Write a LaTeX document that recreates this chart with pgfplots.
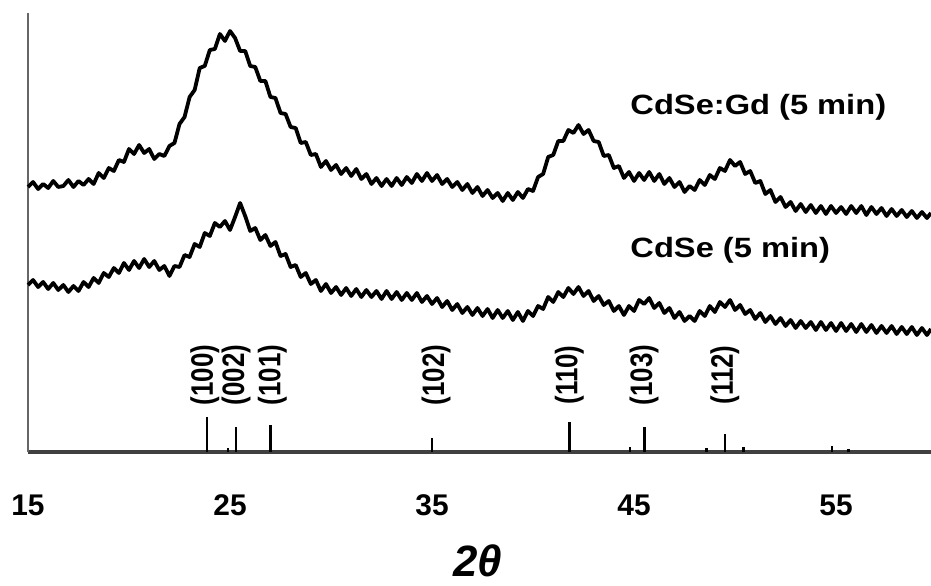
\documentclass[border=0pt]{standalone}
\usepackage{fontspec}
\setmainfont{Liberation Sans}
\usepackage{pgfplots}
\pgfplotsset{compat=1.18}

\begin{document}
\begin{tikzpicture}
\begin{axis}[
    scale only axis,
    width=451.5bp,
    height=219.5bp,
    xmin=15, xmax=59.7,
    ymin=0, ymax=439,
    clip=false,
    axis x line=bottom,
    axis y line=left,
    axis line style={-},
    x axis line style={line width=1.6bp, black!75},
    y axis line style={line width=0.6bp, black!60},
    xtick={15,25,35,45,55},
    ytick=\empty,
    major tick length=0pt,
    /pgf/number format/assume math mode=true,
    xticklabel style={font=\fontsize{15}{15}\selectfont\bfseries, anchor=center, yshift=-26.5bp},
    xlabel={2θ},
    xlabel style={font=\fontsize{22}{22}\selectfont\bfseries\itshape, inner sep=0pt, at={(axis description cs:0.498,0)}, anchor=center, yshift=-54.5bp},
]
% CdSe:Gd (5 min)
\addplot[black, line width=1.9bp, line join=round] coordinates {
(15.00,265) (15.25,270) (15.50,263) (15.75,268) (16.00,264) (16.25,271) (16.50,265) (16.75,266)
(17.00,272) (17.25,265) (17.50,271) (17.75,267) (18.00,273) (18.25,268) (18.50,279) (18.75,274)
(19.00,284) (19.25,281) (19.50,292) (19.75,290) (20.00,303) (20.25,298) (20.50,307) (20.75,299)
(21.00,303) (21.25,293) (21.50,298) (21.75,296) (22.00,306) (22.25,309) (22.50,328) (22.75,335)
(23.00,355) (23.25,362) (23.50,384) (23.75,386) (24.00,402) (24.25,403) (24.50,418) (24.75,411)
(25.00,421) (25.25,414) (25.50,401) (25.75,401) (26.00,386) (26.25,385) (26.50,371) (26.75,371)
(27.00,355) (27.25,354) (27.50,339) (27.75,338) (28.00,325) (28.25,324) (28.50,309) (28.75,310)
(29.00,297) (29.25,298) (29.50,285) (29.75,291) (30.00,282) (30.25,287) (30.50,278) (30.75,284)
(31.00,276) (31.25,283) (31.50,273) (31.75,278) (32.00,268) (32.25,274) (32.50,266) (32.75,273)
(33.00,266) (33.25,274) (33.50,267) (33.75,275) (34.00,269) (34.25,278) (34.50,271) (34.75,279)
(35.00,271) (35.25,277) (35.50,268) (35.75,273) (36.00,265) (36.25,270) (36.50,262) (36.75,268)
(37.00,259) (37.25,265) (37.50,256) (37.75,262) (38.00,254) (38.25,259) (38.50,251) (38.75,259)
(39.00,252) (39.25,260) (39.50,254) (39.75,263) (40.00,261) (40.25,275) (40.50,278) (40.75,295)
(41.00,297) (41.25,311) (41.50,311) (41.75,322) (42.00,319) (42.25,327) (42.50,318) (42.75,322)
(43.00,311) (43.25,310) (43.50,296) (43.75,297) (44.00,284) (44.25,286) (44.50,274) (44.75,280)
(45.00,271) (45.25,279) (45.50,272) (45.75,280) (46.00,271) (46.25,278) (46.50,268) (46.75,274)
(47.00,265) (47.25,270) (47.50,260) (47.75,266) (48.00,262) (48.25,272) (48.50,267) (48.75,277)
(49.00,273) (49.25,284) (49.50,281) (49.75,292) (50.00,286) (50.25,290) (50.50,278) (50.75,281)
(51.00,269) (51.25,271) (51.50,258) (51.75,262) (52.00,250) (52.25,255) (52.50,245) (52.75,250)
(53.00,241) (53.25,248) (53.50,240) (53.75,247) (54.00,239) (54.25,246) (54.50,238) (54.75,246)
(55.00,239) (55.25,245) (55.50,238) (55.75,246) (56.00,239) (56.25,246) (56.50,237) (56.75,245)
(57.00,238) (57.25,244) (57.50,236) (57.75,243) (58.00,236) (58.25,242) (58.50,235) (58.75,241)
(59.00,234) (59.25,240) (59.50,234) (59.70,239)
};
% CdSe (5 min)
\addplot[black, line width=1.9bp, line join=round] coordinates {
(15.00,167) (15.25,172) (15.50,165) (15.75,170) (16.00,163) (16.25,169) (16.50,162) (16.75,167)
(17.00,160) (17.25,166) (17.50,161) (17.75,170) (18.00,165) (18.25,174) (18.50,169) (18.75,179)
(19.00,175) (19.25,184) (19.50,179) (19.75,189) (20.00,182) (20.25,191) (20.50,184) (20.75,193)
(21.00,185) (21.25,191) (21.50,182) (21.75,186) (22.00,176) (22.25,186) (22.50,185) (22.75,197)
(23.00,195) (23.25,208) (23.50,205) (23.75,219) (24.00,216) (24.25,229) (24.50,225) (24.75,231)
(25.00,222) (25.25,235) (25.50,249) (25.75,236) (26.00,221) (26.25,224) (26.50,212) (26.75,217)
(27.00,206) (27.25,210) (27.50,196) (27.75,198) (28.00,185) (28.25,187) (28.50,175) (28.75,179)
(29.00,168) (29.25,172) (29.50,161) (29.75,168) (30.00,159) (30.25,165) (30.50,157) (30.75,164)
(31.00,156) (31.25,163) (31.50,155) (31.75,162) (32.00,155) (32.25,161) (32.50,153) (32.75,161)
(33.00,153) (33.25,160) (33.50,152) (33.75,159) (34.00,152) (34.25,159) (34.50,150) (34.75,156)
(35.00,148) (35.25,154) (35.50,145) (35.75,151) (36.00,142) (36.25,148) (36.50,139) (36.75,145)
(37.00,137) (37.25,144) (37.50,136) (37.75,143) (38.00,134) (38.25,142) (38.50,134) (38.75,141)
(39.00,132) (39.25,140) (39.50,131) (39.75,141) (40.00,136) (40.25,146) (40.50,143) (40.75,155)
(41.00,150) (41.25,160) (41.50,155) (41.75,164) (42.00,158) (42.25,165) (42.50,156) (42.75,161)
(43.00,151) (43.25,156) (43.50,147) (43.75,151) (44.00,141) (44.25,146) (44.50,137) (44.75,146)
(45.00,141) (45.25,152) (45.50,148) (45.75,154) (46.00,144) (46.25,149) (46.50,139) (46.75,144)
(47.00,134) (47.25,140) (47.50,131) (47.75,136) (48.00,131) (48.25,141) (48.50,136) (48.75,146)
(49.00,140) (49.25,150) (49.50,145) (49.75,152) (50.00,142) (50.25,147) (50.50,138) (50.75,142)
(51.00,133) (51.25,139) (51.50,130) (51.75,136) (52.00,128) (52.25,134) (52.50,126) (52.75,132)
(53.00,124) (53.25,131) (53.50,124) (53.75,130) (54.00,122) (54.25,130) (54.50,122) (54.75,129)
(55.00,121) (55.25,129) (55.50,121) (55.75,128) (56.00,120) (56.25,128) (56.50,120) (56.75,127)
(57.00,119) (57.25,126) (57.50,119) (57.75,126) (58.00,118) (58.25,125) (58.50,118) (58.75,125)
(59.00,117) (59.25,124) (59.50,117) (59.70,123)
};
% reference lines
\addplot[black, ycomb, line width=1.4bp] coordinates {
(23.86,35) (24.9,4) (25.3,25) (27.0,27) (35.0,14) (41.8,30) (44.8,5)
(45.5,25) (48.6,4) (49.5,18) (50.4,5) (54.8,6) (55.6,3)
};
\begin{scope}[every node/.style={font=\fontsize{13}{13}\selectfont\bfseries, rotate=90, yscale=1.2, anchor=center, inner sep=0pt}]
\node at (axis cs:23.75,77) {(100)};
\node at (axis cs:25.3,77) {(002)};
\node at (axis cs:27.1,77) {(101)};
\node at (axis cs:35.2,77) {(102)};
\node at (axis cs:41.8,77) {(110)};
\node at (axis cs:45.5,77) {(103)};
\node at (axis cs:49.5,77) {(112)};
\end{scope}
\node[font=\fontsize{14}{14}\selectfont\bfseries, xscale=1.17, anchor=west, inner sep=0pt] at (axis cs:44.8,345) {CdSe:Gd (5 min)};
\node[font=\fontsize{14}{14}\selectfont\bfseries, xscale=1.17, anchor=west, inner sep=0pt] at (axis cs:44.8,202) {CdSe (5 min)};
\end{axis}
\pgfresetboundingbox
\path[use as bounding box] (-14bp,-67bp) rectangle (451.5bp,226bp);
\end{tikzpicture}
\end{document}
